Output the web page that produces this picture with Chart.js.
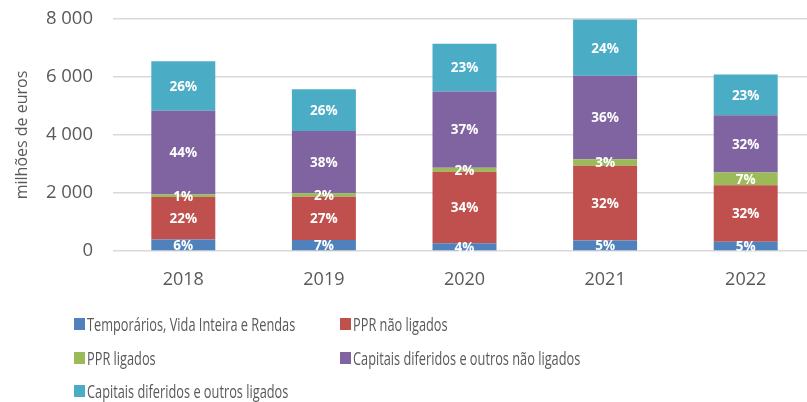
<!DOCTYPE html>
<html>
<head>
<meta charset="utf-8">
<script src="https://cdn.jsdelivr.net/npm/chart.js@4/dist/chart.umd.min.js"></script>
<style>
  body { margin: 0; background: #fff; overflow: hidden; width: 807px; height: 402px; position: relative; }
  #wrap { position: absolute; left: 0; top: 0; width: 817px; height: 300px; }
  #legend { position: absolute; left: 0; top: 0; width: 807px; height: 402px; pointer-events: none; }
  .item { position: absolute; height: 20px; white-space: nowrap; font-family: "Open Sans", sans-serif; font-size: 18px; line-height: 20px; color: #595959; }
  .item span.box { position: absolute; left: 0; top: 4px; width: 11px; height: 12px; }
  .item span.txt { position: absolute; left: 13px; top: 0; display: inline-block; transform: scaleX(0.71); transform-origin: left center; }
</style>
</head>
<body>
<div id="wrap"><canvas id="barChart" width="817" height="300"></canvas></div>
<div id="legend"></div>
<script>
const years = ['2018', '2019', '2020', '2021', '2022'];
const temporarios = [400, 380, 270, 360, 320];
const pprNaoLigados = [1460, 1490, 2460, 2580, 1950];
const pprLigados = [90, 125, 140, 220, 440];
const capitaisNaoLigados = [2890, 2140, 2630, 2880, 1970];
const capitaisLigados = [1700, 1445, 1645, 1940, 1410];
const yTicks = [0, 2000, 4000, 6000, 8000];

const seriesNames = [
    'Temporários, Vida Inteira e Rendas',
    'PPR não ligados',
    'PPR ligados',
    'Capitais diferidos e outros não ligados',
    'Capitais diferidos e outros ligados'
];
const colors = ['#4F81BD', '#C0504D', '#9BBB59', '#8064A2', '#4BACC6'];
const seriesData = [temporarios, pprNaoLigados, pprLigados, capitaisNaoLigados, capitaisLigados];

// totals per year, for the % labels inside the bars
const totals = years.map((y, i) => seriesData.reduce((acc, s) => acc + s[i], 0));

const pctLabels = {
    id: 'pctLabels',
    afterDatasetsDraw(chart) {
        const ctx = chart.ctx;
        ctx.save();
        ctx.fillStyle = '#ffffff';
        ctx.font = 'bold 13.5px "Open Sans"';
        ctx.textAlign = 'center';
        ctx.textBaseline = 'middle';
        chart.data.datasets.forEach((ds, di) => {
            const meta = chart.getDatasetMeta(di);
            meta.data.forEach((bar, i) => {
                const p = bar.getProps(['x', 'y', 'base'], true);
                const pct = Math.round(ds.data[i] / totals[i] * 100) + '%';
                ctx.fillText(pct, p.x, (p.y + p.base) / 2 + 1);
            });
        });
        ctx.restore();
    }
};

const barChart = document.getElementById('barChart');

const chart = new Chart(barChart, {
    type: 'bar',
    data: {
        labels: years,
        datasets: seriesData.map((d, i) => ({
            label: seriesNames[i],
            data: d,
            backgroundColor: colors[i],
            borderWidth: 0,
            categoryPercentage: 1,
            barPercentage: 0.455
        }))
    },
    options: {
        responsive: false,
        animation: false,
        layout: { padding: { top: 19, right: 1, left: 0, bottom: 0 } },
        plugins: {
            legend: { display: false },
            tooltip: { enabled: false }
        },
        scales: {
            x: {
                stacked: true,
                grid: { display: false },
                border: { display: false },
                ticks: { color: '#595959', font: { family: 'Open Sans', size: 18 }, padding: 10 },
                afterFit: (s) => { s.height = 49; }
            },
            y: {
                stacked: true,
                min: 0,
                max: 8000,
                afterBuildTicks: (s) => { s.ticks = yTicks.map(v => ({ value: v })); },
                ticks: {
                    color: '#595959',
                    font: { family: 'Open Sans', size: 18.5 },
                    padding: 20,
                    callback: (v) => v.toLocaleString('en-US').replace(/,/g, ' ')
                },
                grid: { color: '#d9d9d9', lineWidth: 1.5, drawTicks: false },
                border: { display: false },
                title: {
                    display: true,
                    text: 'milhões de euros',
                    color: '#595959',
                    font: { family: 'Open Sans', size: 16 },
                    padding: { top: 13, bottom: 0 }
                },
                afterFit: (s) => { s.width = 113; s.paddingTop = 0; s.paddingBottom = 0; }
            }
        }
    },
    plugins: [pctLabels]
});

// legend in two columns, built from the chart datasets
const legendPos = [[74, 314], [340, 314], [74, 348], [340, 348], [74, 381]];
const legend = document.getElementById('legend');
chart.data.datasets.forEach((ds, i) => {
    const el = document.createElement('div');
    el.className = 'item';
    el.style.left = legendPos[i][0] + 'px';
    el.style.top = legendPos[i][1] + 'px';
    el.innerHTML = '<span class="box" style="background:' + ds.backgroundColor + '"></span><span class="txt">' + ds.label + '</span>';
    legend.appendChild(el);
});
</script>
</body>
</html>
